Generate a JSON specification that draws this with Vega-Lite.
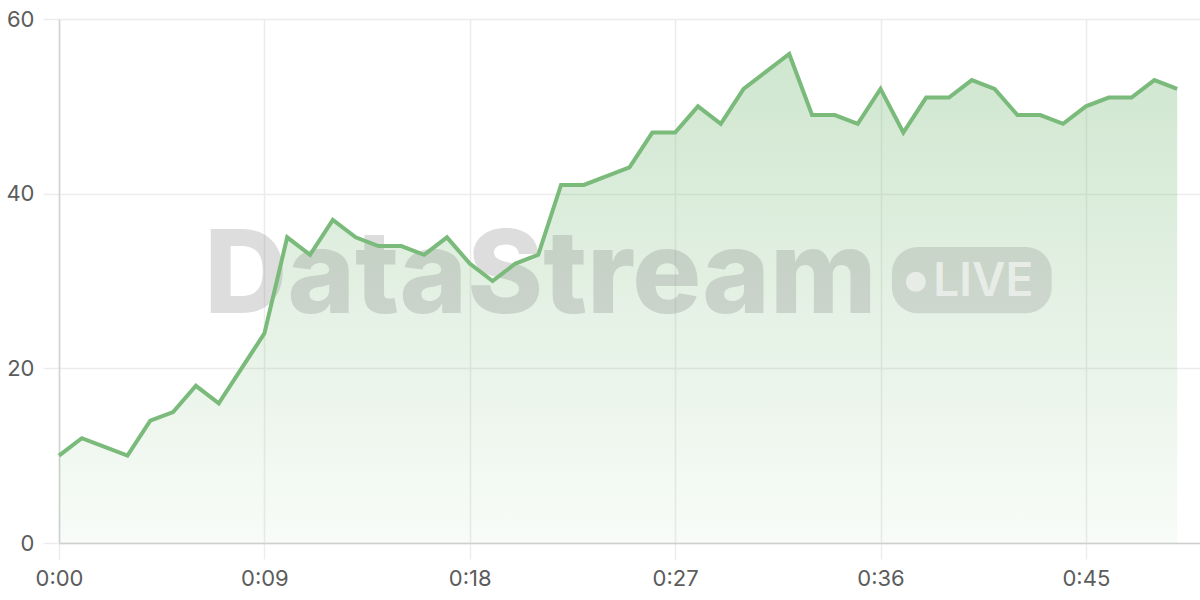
{
  "$schema": "https://vega.github.io/schema/vega-lite/v6.json",
  "width": 1141,
  "height": 524,
  "autosize": {"type": "none"},
  "padding": {"left": 59, "top": 19, "right": 0, "bottom": 57},
  "background": "#ffffff",
  "config": {
    "view": {"stroke": null},
    "axis": {
      "labelFont": "Inter",
      "labelFontSize": 22,
      "labelColor": "#5c5c5c",
      "labelFlush": false,
      "domainColor": "#d2d2d2",
      "domainWidth": 1.5,
      "gridColor": "#ececec",
      "gridWidth": 1.5,
      "tickColor": "#ececec",
      "tickWidth": 1.5,
      "tickSize": 16,
      "labelPadding": 9,
      "title": null
    }
  },
  "datasets": {
    "series": [
      {"t": 0, "value": 10}, {"t": 1, "value": 12}, {"t": 2, "value": 11}, {"t": 3, "value": 10},
      {"t": 4, "value": 14}, {"t": 5, "value": 15}, {"t": 6, "value": 18}, {"t": 7, "value": 16},
      {"t": 8, "value": 20}, {"t": 9, "value": 24}, {"t": 10, "value": 35}, {"t": 11, "value": 33},
      {"t": 12, "value": 37}, {"t": 13, "value": 35}, {"t": 14, "value": 34}, {"t": 15, "value": 34},
      {"t": 16, "value": 33}, {"t": 17, "value": 35}, {"t": 18, "value": 32}, {"t": 19, "value": 30},
      {"t": 20, "value": 32}, {"t": 21, "value": 33}, {"t": 22, "value": 41}, {"t": 23, "value": 41},
      {"t": 24, "value": 42}, {"t": 25, "value": 43}, {"t": 26, "value": 47}, {"t": 27, "value": 47},
      {"t": 28, "value": 50}, {"t": 29, "value": 48}, {"t": 30, "value": 52}, {"t": 31, "value": 54},
      {"t": 32, "value": 56}, {"t": 33, "value": 49}, {"t": 34, "value": 49}, {"t": 35, "value": 48},
      {"t": 36, "value": 52}, {"t": 37, "value": 47}, {"t": 38, "value": 51}, {"t": 39, "value": 51},
      {"t": 40, "value": 53}, {"t": 41, "value": 52}, {"t": 42, "value": 49}, {"t": 43, "value": 49},
      {"t": 44, "value": 48}, {"t": 45, "value": 50}, {"t": 46, "value": 51}, {"t": 47, "value": 51},
      {"t": 48, "value": 53}, {"t": 49, "value": 52}
    ],
    "watermark": [
      {"brand": "DataStream", "badge": "LIVE", "t": 21.1, "v": 26.3, "bx": 36.5, "bx2": 43.5, "by": 26.3, "by2": 33.9, "dx": 37.55, "dy": 29.9, "lx": 40.5, "ly": 28.3}
    ]
  },
  "layer": [
    {
      "data": {"name": "series"},
      "mark": {
        "type": "area",
        "line": false,
        "fill": {
          "x1": 0, "y1": 1, "x2": 0, "y2": 0,
          "gradient": "linear",
          "stops": [
            {"offset": 0, "color": "rgba(122,186,122,0.05)"},
            {"offset": 1, "color": "rgba(122,186,122,0.36)"}
          ]
        }
      },
      "encoding": {
        "x": {
          "field": "t",
          "type": "quantitative",
          "scale": {"domain": [0, 50], "nice": false},
          "axis": {
            "values": [0, 9, 18, 27, 36, 45],
            "labelExpr": "floor(datum.value / 60) + ':' + (datum.value % 60 < 10 ? '0' : '') + (datum.value % 60)",
            "domainColor": "#cfcfcf"
          }
        },
        "y": {
          "field": "value",
          "type": "quantitative",
          "scale": {"domain": [0, 60], "nice": false},
          "axis": {"values": [0, 20, 40, 60]}
        }
      }
    },
    {
      "data": {"name": "watermark"},
      "mark": {"type": "text", "font": "Inter", "fontWeight": 800, "fontSize": 115, "align": "center", "baseline": "alphabetic", "color": "#888888", "opacity": 0.28, "letterSpacing": -2},
      "encoding": {
        "text": {"field": "brand"},
        "x": {"field": "t", "type": "quantitative"},
        "y": {"field": "v", "type": "quantitative"}
      }
    },
    {
      "data": {"name": "watermark"},
      "mark": {"type": "rect", "cornerRadius": 26, "color": "#888888", "opacity": 0.25},
      "encoding": {
        "x": {"field": "bx", "type": "quantitative"},
        "x2": {"field": "bx2"},
        "y": {"field": "by", "type": "quantitative"},
        "y2": {"field": "by2"}
      }
    },
    {
      "data": {"name": "watermark"},
      "mark": {"type": "point", "shape": "circle", "filled": true, "size": 400, "color": "#ffffff", "opacity": 0.55},
      "encoding": {
        "x": {"field": "dx", "type": "quantitative"},
        "y": {"field": "dy", "type": "quantitative"}
      }
    },
    {
      "data": {"name": "watermark"},
      "mark": {"type": "text", "font": "Inter", "fontWeight": 600, "fontSize": 46, "align": "center", "baseline": "alphabetic", "color": "#ffffff", "opacity": 0.55},
      "encoding": {
        "text": {"field": "badge"},
        "x": {"field": "lx", "type": "quantitative"},
        "y": {"field": "ly", "type": "quantitative"}
      }
    },
    {
      "data": {"name": "series"},
      "mark": {"type": "line", "color": "#7aba7a", "strokeWidth": 4, "strokeJoin": "miter"},
      "encoding": {
        "x": {"field": "t", "type": "quantitative"},
        "y": {"field": "value", "type": "quantitative"}
      }
    }
  ]
}
